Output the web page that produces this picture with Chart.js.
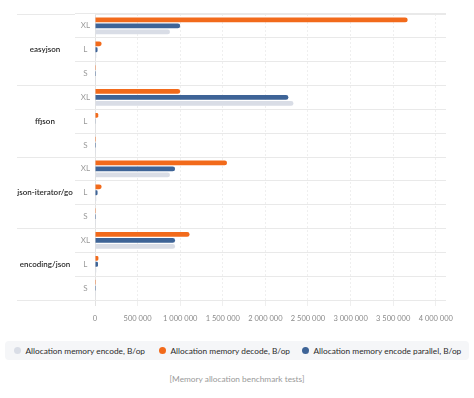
<!DOCTYPE html>
<html>
<head>
<meta charset="utf-8">
<script src="https://cdn.jsdelivr.net/npm/chart.js@4"></script>
<style>
    body { margin: 0; background: #fff; font-family: Lato, "Open Sans", sans-serif; }
    .chart-wrap { position: absolute; left: 0; top: 0; width: 474px; height: 333px; }
    .legend {
        position: absolute; left: 5px; top: 341px; width: 464px; height: 19px;
        background: #f5f6f8; border-radius: 4px;
        font-size: 8.3px; color: #2b2b2b; white-space: nowrap;
    }
    .legend span.item { position: absolute; top: 0; height: 19px; display: flex; align-items: center; }
    .legend span.dot { width: 7px; height: 7px; border-radius: 50%; margin-right: 5px; display: inline-block; }
    .caption {
        position: absolute; left: 0; top: 374px; width: 474px; text-align: center;
        font-size: 8.3px; color: #9a9a9a;
    }
</style>
</head>
<body>
<div class="chart-wrap"><canvas id="memChart"></canvas></div>
<div class="legend" id="legend"></div>
<div class="caption">[Memory allocation benchmark tests]</div>
<script>
// ---------------- Data ----------------
const groups = ['easyjson', 'ffjson', 'json-iterator/go', 'encoding/json'];
const sizes = ['XL', 'L', 'S'];
const rowLabels = groups.flatMap(() => sizes);

// one value per row: easyjson XL/L/S, ffjson XL/L/S, json-iterator XL/L/S, encoding/json XL/L/S
const decodeValues   = [3670000, 78000, 1500, 1000000, 38000, 800, 1550000, 78000, 1600, 1110000, 40000, 1200];
const parallelValues = [1000000, 30000, 700, 2270000, 4000, 300, 940000, 30000, 600, 940000, 35000, 700];
const encodeValues   = [880000, 15000, 500, 2330000, 3000, 200, 880000, 15000, 400, 940000, 15000, 500];

const xTicks = [0, 500000, 1000000, 1500000, 2000000, 2500000, 3000000, 3500000, 4000000];
const xMax = 4120000;

const COLORS = {
    encode: '#d9dde6',
    decode: '#f26a1b',
    parallel: '#3e6497'
};

const legendItems = [
    { label: 'Allocation memory encode, B/op', color: COLORS.encode, left: 8.5 },
    { label: 'Allocation memory decode, B/op', color: COLORS.decode, left: 153.5 },
    { label: 'Allocation memory encode parallel, B/op', color: COLORS.parallel, left: 296.5 }
];

// ---------------- Helpers ----------------
const groupFont = { family: 'Lato', size: 8, weight: '600' };
const groupAxisWidth = 58;

function measureWidest(labels, font) {
    const ctx = document.createElement('canvas').getContext('2d');
    ctx.font = `${font.weight} ${font.size}px ${font.family}`;
    return Math.max(...labels.map(l => ctx.measureText(l).width));
}

function formatThousands(v) {
    return String(v).replace(/\B(?=(\d{3})+(?!\d))/g, ' ');
}

function buildLegend() {
    const box = document.getElementById('legend');
    legendItems.forEach(it => {
        const item = document.createElement('span');
        item.className = 'item';
        item.style.left = it.left + 'px';
        const dot = document.createElement('span');
        dot.className = 'dot';
        dot.style.background = it.color;
        item.appendChild(dot);
        item.appendChild(document.createTextNode(it.label));
        box.appendChild(item);
    });
}

// ---------------- Chart ----------------
function renderChart() {
    const ctx = document.getElementById('memChart').getContext('2d');
    const widestGroup = measureWidest(groups, groupFont);

    const barStyle = { borderRadius: 3, borderSkipped: 'start', categoryPercentage: 0.75, barPercentage: 0.8 };

    new Chart(ctx, {
        type: 'bar',
        data: {
            labels: rowLabels,
            datasets: [
                { label: 'Allocation memory decode, B/op', data: decodeValues, backgroundColor: COLORS.decode, ...barStyle },
                { label: 'Allocation memory encode parallel, B/op', data: parallelValues, backgroundColor: COLORS.parallel, ...barStyle },
                { label: 'Allocation memory encode, B/op', data: encodeValues, backgroundColor: COLORS.encode, ...barStyle }
            ]
        },
        options: {
            indexAxis: 'y',
            animation: false,
            responsive: true,
            maintainAspectRatio: false,
            layout: { padding: { top: 14, right: 28, left: 17, bottom: 2 } },
            plugins: {
                legend: { display: false },
                tooltip: { enabled: false }
            },
            scales: {
                x: {
                    min: 0,
                    max: xMax,
                    afterBuildTicks: s => { s.ticks = xTicks.map(v => ({ value: v })); },
                    border: {
                        display: false,
                        dash: c => (c.tick && c.tick.value === 0 ? [] : [2, 2])
                    },
                    grid: {
                        color: c => (c.tick && c.tick.value === 0 ? '#e2e2e2' : '#efefef'),
                        tickLength: 6
                    },
                    ticks: {
                        maxRotation: 0,
                        autoSkip: false,
                        padding: 8,
                        color: '#8a8a8a',
                        font: { family: 'Lato', size: 7.5 },
                        callback: v => formatThousands(v)
                    }
                },
                y: {
                    weight: 0,
                    border: { display: false },
                    grid: { offset: true, color: '#e9e9e9', tickLength: 20 },
                    afterFit: s => { s.width = 20; },
                    ticks: {
                        crossAlign: 'center',
                        padding: -15,
                        color: '#9a9a9a',
                        font: { family: 'Lato', size: 8 }
                    }
                },
                y2: {
                    type: 'category',
                    position: 'left',
                    weight: 1,
                    labels: groups,
                    offset: true,
                    border: { display: false },
                    grid: { offset: true, color: '#e9e9e9', tickLength: groupAxisWidth },
                    afterFit: s => { s.width = groupAxisWidth; },
                    ticks: {
                        crossAlign: 'center',
                        padding: -(groupAxisWidth / 2 + widestGroup / 2) + 1,
                        color: '#2a2a2a',
                        font: groupFont
                    }
                }
            }
        }
    });
}

document.addEventListener('DOMContentLoaded', () => {
    buildLegend();
    renderChart();
});
</script>
</body>
</html>
